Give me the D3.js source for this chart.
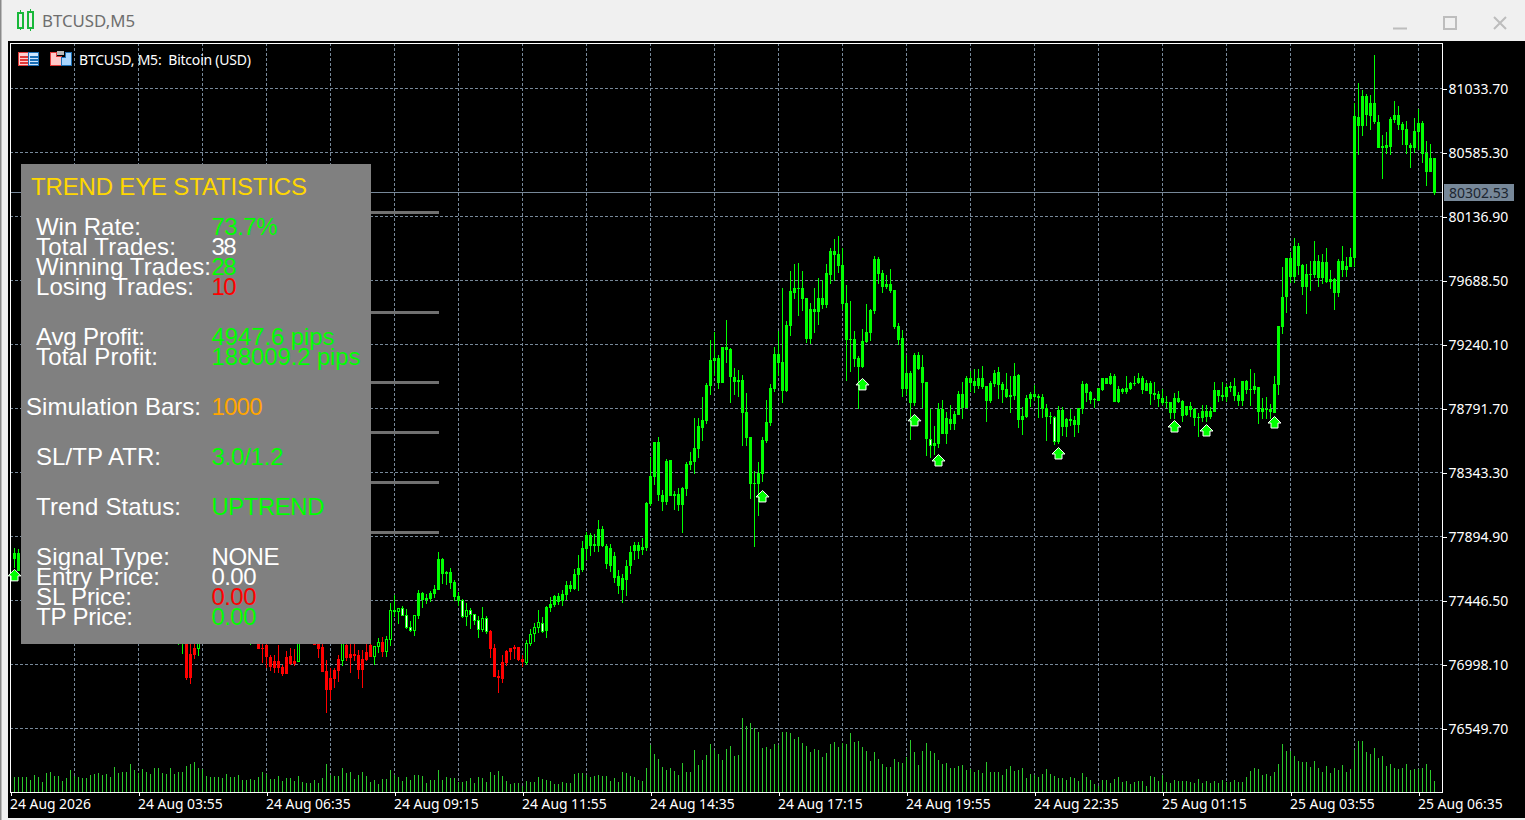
<!DOCTYPE html>
<html><head><meta charset="utf-8"><title>BTCUSD,M5</title>
<script src="https://cdn.jsdelivr.net/npm/d3@7/dist/d3.min.js"></script>
<style>html,body{margin:0;padding:0;background:#f0f0f0;overflow:hidden}svg{display:block}</style>
</head><body><svg id="c" width="1525" height="820"></svg>
<script>
const _ = null; // bars hidden behind the statistics panel
// index 0 of each series = bar 1 of the chart
const highs = [77815,77808,
_,_,_,_,_,_,_,_,_,_,_,_,_,_,_,_,_,_,_,_,_,_,_,_,_,_,_,_,_,_,_,_,_,_,_,_,_,_,_,
77275,77380,77450,77310,77205,77226,_,_,_,_,_,_,_,_,_,_,_,_,77240,_,77240,77205,77170,77065,77065,77135,76995,77093,77114,77107,77240,_,_,_,77226,77170,77170,77030,76974,76974,77065,77240,77170,77170,77170,77100,77100,77170,77170,
77128,77184,77191,77198,77429,77485,77394,77408,77387,77303,
77345,77520,77506,77492,77513,77555,77787,77745,77654,77675,
77590,77506,77457,77429,77394,77352,77338,77401,77338,77240,
77142,76960,77065,77100,77114,77135,77121,77065,77170,77247,
77289,77380,77331,77408,77471,77485,77499,77520,77583,77583,
77668,77766,77864,77927,77920,77913,78011,77969,77843,77843,
77787,77661,77633,77731,77829,77857,77857,77885,78137,78452,
78557,78592,78221,78438,78431,78214,78235,78242,78417,78487,
78726,78726,78873,78971,79272,79328,79167,79223,79412,79216,
79076,79062,79027,78901,78592,78354,78417,78592,78852,78964,
79223,79335,79636,79405,79755,79804,79811,79755,79566,79531,
79636,79706,79692,79804,79916,79979,80000,79916,79657,79545,
79335,79160,79349,79524,79489,79860,79853,79762,79727,79769,
79622,79391,79342,79167,79055,79181,79188,79167,78978,78789,
78669,78831,78852,78768,78817,78775,78915,78978,79020,79055,
79069,79069,79090,78950,78985,79062,79083,78978,79041,79020,
79111,79034,78803,78887,78908,78957,78894,78894,78824,78768,
78740,78810,78803,78726,78789,78740,78796,78985,78971,78915,
78866,78936,79006,79006,79041,79034,78950,78936,79020,78978,
79020,79041,79020,78992,78985,78978,78915,78929,78880,78838,
78901,78915,78852,78810,78838,78796,78761,78817,78817,78803,
78978,78922,78978,78964,78978,79006,78908,78985,78992,79069,
79041,78943,78866,78873,78824,79020,79370,79783,79846,79888,
79986,79951,79804,79804,79825,79965,79867,79874,79916,79762,
79706,79839,79930,79853,79916,80932,81072,81023,80995,80988,
81269,80848,80708,80729,80834,80946,80911,80799,80806,80652,
80827,80890,80806,80666,80645,80547];
const bodyTops = [77780,77780,
_,_,_,_,_,_,_,_,_,_,_,_,_,_,_,_,_,_,_,_,_,_,_,_,_,_,_,_,_,_,_,_,_,_,_,_,_,_,_,
77240,77310,77324,77072,77114,77184,_,_,_,_,_,_,_,_,_,_,_,_,77212,_,77170,77114,77135,77051,77023,77023,76981,77051,77058,77023,77198,_,_,_,77184,77149,77121,76953,76904,76960,77037,77170,77135,77072,77072,77065,77037,77086,77135,
77128,77156,77156,77177,77380,77380,77394,77394,77345,77261,
77345,77499,77499,77464,77499,77527,77738,77738,77647,77647,
77576,77478,77450,77380,77380,77352,77310,77324,77324,77233,
77114,76918,77016,77093,77114,77121,77121,77037,77149,77212,
77261,77296,77289,77401,77422,77478,77478,77492,77555,77555,
77633,77675,77815,77906,77906,77843,77948,77948,77829,77815,
77759,77619,77605,77689,77787,77836,77836,77822,78130,78319,
78557,78557,78186,78424,78431,78193,78193,78235,78403,78424,
78515,78669,78712,78957,79132,79146,79146,79223,79223,79209,
79013,78992,78992,78768,78592,78270,78340,78571,78697,78936,
79174,79174,79118,79377,79615,79636,79636,79636,79566,79489,
79489,79566,79566,79741,79895,79895,79874,79797,79531,79279,
79279,79146,79265,79328,79482,79839,79839,79741,79664,79664,
79622,79370,79286,79041,79041,79167,79167,79083,78978,78578,
78550,78789,78789,78726,78719,78754,78894,78894,79006,79006,
78985,79006,79006,78950,78971,79041,79048,78964,78929,78887,
79020,79027,78740,78866,78894,78894,78880,78873,78796,78740,
78733,78782,78782,78719,78719,78712,78796,78964,78964,78908,
78859,78936,79006,79006,79020,79020,78929,78929,78936,78971,
78971,79006,79006,78971,78971,78901,78894,78866,78838,78838,
78866,78866,78845,78810,78810,78789,78733,78775,78775,78775,
78922,78922,78887,78943,78950,78950,78887,78985,78985,78929,
78950,78943,78796,78789,78789,78964,79370,79573,79846,79846,
79930,79930,79797,79734,79734,79825,79825,79818,79818,79699,
79699,79825,79825,79790,79853,80841,80834,80981,80981,80932,
80932,80799,80631,80638,80820,80848,80848,80785,80750,80638,
80736,80792,80792,80582,80547,80547];
const bodyBottoms = [77738,77654,
_,_,_,_,_,_,_,_,_,_,_,_,_,_,_,_,_,_,_,_,_,_,_,_,_,_,_,_,_,_,_,_,_,_,_,_,_,_,_,
77170,77170,76904,76904,77065,77107,_,_,_,_,_,_,_,_,_,_,_,_,77170,_,77107,77107,77051,76981,76974,76974,76932,76932,77002,77002,77016,_,_,_,77135,77107,76946,76820,76820,76897,76953,77023,77044,77044,77058,76960,76960,77030,77051,
77051,77121,77086,77086,77170,77366,77366,77338,77254,77233,
77233,77338,77450,77450,77457,77492,77520,77633,77633,77569,
77471,77443,77331,77331,77345,77303,77240,77240,77226,77107,
76911,76904,76897,77009,77086,77107,77030,77016,77009,77142,
77212,77254,77226,77233,77394,77415,77436,77443,77485,77527,
77527,77626,77661,77808,77829,77829,77829,77829,77703,77689,
77605,77548,77520,77590,77689,77794,77794,77801,77815,78123,
78312,78186,78137,78137,78179,78179,78116,78116,78228,78396,
78417,78508,78655,78704,78950,79125,78971,78971,79202,79013,
78978,78978,78761,78585,78263,78263,78263,78333,78564,78690,
78929,79111,78915,78915,79370,79601,79629,79559,79279,79279,
79468,79468,79517,79517,79727,79867,79790,79524,79272,79272,
79139,79083,79083,79258,79321,79475,79734,79643,79643,79615,
79363,79272,78929,78929,78831,78831,79069,78971,78578,78529,
78529,78543,78613,78613,78683,78683,78747,78796,78796,78971,
78950,78950,78943,78845,78845,78964,78957,78922,78873,78873,
78880,78712,78712,78733,78859,78873,78866,78789,78733,78733,
78557,78557,78662,78662,78705,78677,78677,78789,78901,78852,
78852,78845,78922,78964,78964,78838,78838,78908,78908,78929,
78964,78971,78922,78915,78894,78887,78859,78831,78831,78761,
78761,78838,78740,78747,78782,78726,78726,78726,78733,78733,
78768,78880,78873,78873,78936,78880,78845,78845,78922,78922,
78922,78768,78768,78782,78768,78761,78957,79363,79573,79713,
79713,79790,79643,79643,79727,79727,79706,79706,79678,79678,
79601,79601,79762,79762,79783,79846,80771,80771,80848,80841,
80799,80617,80617,80617,80624,80813,80778,80743,80638,80617,
80617,80729,80575,80449,80449,80302.53];
const lows = [77675,77654,
_,_,_,_,_,_,_,_,_,_,_,_,_,_,_,_,_,_,_,_,_,_,_,_,_,_,_,_,_,_,_,_,_,_,_,_,_,_,_,
77135,77072,76890,76862,77037,77058,_,_,_,_,_,_,_,_,_,_,_,_,77135,_,77107,77009,76974,76953,76939,76939,76918,76932,76995,76988,77016,_,_,_,77135,77044,76946,76659,76750,76834,76876,76988,77023,76939,77023,76897,76834,77023,77051,
76995,77079,77051,77051,77128,77331,77282,77338,77247,77226,
77198,77317,77394,77422,77436,77464,77520,77562,77555,77527,
77443,77408,77324,77268,77247,77275,77184,77226,77212,77044,
76911,76799,76869,76988,77030,77037,77023,76981,76995,77128,
77156,77219,77219,77184,77366,77401,77415,77408,77450,77506,
77520,77513,77647,77731,77759,77787,77787,77822,77668,77647,
77569,77492,77429,77478,77633,77731,77738,77766,77794,78109,
78256,78144,78074,78116,78179,78081,78074,77920,78179,78361,
78333,78445,78564,78683,78887,79020,78929,78971,79111,78831,
78887,78873,78529,78529,78158,77822,78039,78277,78550,78669,
78908,79020,78831,78908,79300,79559,79440,79475,79251,79244,
79321,79377,79489,79496,79664,79685,79741,79482,78985,79048,
79083,78789,79076,79251,79265,79454,79664,79601,79629,79601,
79349,79237,78873,78887,78571,78810,79062,78796,78459,78445,
78466,78515,78613,78543,78641,78641,78747,78719,78796,78908,
78901,78929,78929,78697,78831,78943,78859,78831,78866,78761,
78852,78655,78606,78726,78803,78845,78726,78726,78564,78683,
78536,78543,78599,78592,78669,78592,78620,78754,78838,78824,
78796,78845,78915,78964,78957,78838,78831,78894,78894,78922,
78950,78964,78894,78915,78817,78852,78803,78817,78796,78719,
78719,78831,78697,78740,78733,78669,78592,78697,78697,78719,
78768,78838,78845,78838,78908,78845,78810,78810,78894,78810,
78894,78683,78719,78719,78719,78761,78887,79314,79461,79671,
79671,79727,79587,79454,79615,79706,79643,79664,79671,79629,
79482,79573,79713,79713,79783,79783,80568,80701,80771,80743,
80785,80617,80400,80575,80568,80792,80743,80638,80575,80477,
80582,80603,80512,80350,80449,80288];
const tickVolumes = [150,150,150,150,120,170,150,100,190,200,
160,160,110,140,220,160,150,140,140,170,
180,190,170,180,150,250,190,200,200,280,
220,190,230,200,180,240,240,190,180,240,
180,200,200,260,280,300,240,230,160,150,
150,150,140,180,150,150,170,120,120,130,
120,150,200,180,130,130,160,110,140,140,
110,160,100,90,90,120,90,140,280,170,
160,160,240,190,200,130,170,200,160,100,
120,80,130,130,220,170,150,110,150,120,
170,170,160,90,120,120,220,120,150,140,
140,100,100,110,140,90,150,140,100,200,
170,210,160,110,80,90,90,60,110,100,
100,150,130,120,110,80,80,100,90,90,
180,190,190,170,150,160,170,160,160,110,
140,100,200,190,160,150,120,110,240,470,
380,330,250,220,240,210,170,290,200,200,
420,270,320,370,480,420,380,320,430,460,
360,370,740,660,690,640,600,440,450,430,
480,470,600,600,590,530,550,490,460,400,
430,420,350,390,480,500,450,490,480,590,
500,510,450,410,310,400,330,280,250,250,
330,300,290,350,520,400,270,410,490,410,
390,320,280,290,240,240,260,270,220,230,
200,220,190,300,200,200,200,170,230,260,
210,220,240,140,180,170,150,180,230,180,
160,140,140,120,150,140,110,190,150,120,
80,60,120,120,90,130,150,100,110,80,
100,110,110,60,160,150,110,170,100,90,
120,110,110,110,100,90,130,90,110,90,
110,90,120,100,100,120,100,100,150,210,
240,230,170,180,160,200,280,480,410,410,
360,310,300,300,250,310,240,200,260,190,
240,220,270,200,230,420,510,510,400,380,
440,340,360,260,280,240,230,240,280,220,
230,230,240,280,220,110];
const redBars = [44,45,46,62,63,64,65,66,67,68,69,70,71,76,77,78,79,80,81,82,84,85,86,87,88,89,90,93,120,121,122,123,124,125,126,127,128];
const hollowBars = [47,72,83,91,92,94,95,97,101,114,118,129,130,131,132];
const whiteBars = [98,99,100,113,115,116,117,119,133,230,261];
const signalBars = [1,188,213,226,232,262,291,299,316];
const signalPrices = [77619,78172,78957,78705,78424,78473,78662,78634,78690];
const priceTicks = [81033.70,80585.30,80136.90,79688.50,79240.10,78791.70,78343.30,77894.90,77446.50,76998.10,76549.70];
const timeTickBars = [0,32,64,96,128,160,192,224,256,288,320,352];
const timeTickLabels = ["24 Aug 2026","24 Aug 03:55","24 Aug 06:35","24 Aug 09:15","24 Aug 11:55","24 Aug 14:35","24 Aug 17:15","24 Aug 19:55","24 Aug 22:35","25 Aug 01:15","25 Aug 03:55","25 Aug 06:35"];
const lastPrice = 80302.53;
const panelTitle = "TREND EYE STATISTICS";
const statLabels = ["Win Rate:","Total Trades:","Winning Trades:","Losing Trades:","Avg Profit:","Total Profit:","Simulation Bars:","SL/TP ATR:","Trend Status:","Signal Type:","Entry Price:","SL Price:","TP Price:"];
const statValues = ["73.7%","38","28","10","4947.6 pips","188009.2 pips","1000","3.0/1.2","UPTREND","NONE","0.00","0.00","0.00"];
const statColors = ["#00ff00","#ffffff","#00ff00","#ff0000","#00ff00","#00ff00","#ffa500","#00ff00","#00ff00","#ffffff","#ffffff","#ff0000","#00ff00"];
const statBaselines = [235,255,275,295,345,365,415,465,515,565,585,605,625];
const statLabelX = [36,36,36,36,36,36,26,36,36,36,36,36,36];
const statLabelWidths = [105,140,175,158,109,122,175,125,145,134,124,96,97];
const statValueWidths = [66,25,25,25,123,149,51,72,113,68,45,45,45];
const stubLineRows = [212,312,382,432,482,532];

const svg = d3.select("#c");
const L=10, R=1442, T=43, B=792, GRID="#778899", UI='"Noto Sans",sans-serif', ARIAL='"Liberation Sans",Arial,sans-serif';
const x = d3.scaleLinear().domain([0,356]).range([10.5,1434.5]);
const y = d3.scaleLinear().domain([81033.70,76549.70]).range([88.5,728.5]);
const yVol = d3.scaleLinear().domain([0,1000]).range([792,692]);

// window chrome
svg.append("rect").attr("width",1525).attr("height",820).attr("fill","#f0f0f0");
svg.append("rect").attr("width",1.5).attr("height",820).attr("fill","#8a8a8a");
svg.append("rect").attr("x",8).attr("y",41).attr("width",1517).attr("height",777).attr("fill","#000");
const ic = svg.append("g").attr("shape-rendering","crispEdges").attr("fill","none").attr("stroke","#18b83a").attr("stroke-width",1.4);
ic.append("rect").attr("x",18).attr("y",13).attr("width",5).attr("height",15);
ic.append("rect").attr("x",28).attr("y",12).attr("width",5).attr("height",16);
ic.append("path").attr("d","M20.5 10V13M20.5 28V30M30.5 9V12M30.5 28V31");
svg.append("text").attr("x",42).attr("y",26.5).attr("font-family",UI).attr("font-size",16.5).attr("fill","#6e6e6e").attr("textLength",93).attr("lengthAdjust","spacingAndGlyphs").text("BTCUSD,M5");
const wc = svg.append("g").attr("fill","none").attr("stroke","#bdbdbd").attr("stroke-width",2);
wc.append("path").attr("d","M1393 28.5H1407");
wc.append("rect").attr("x",1444).attr("y",17).attr("width",12).attr("height",12);
wc.append("path").attr("d","M1494 17L1506 29M1506 17L1494 29");

// grid
const grid = svg.append("g").attr("shape-rendering","crispEdges").attr("stroke",GRID).attr("stroke-dasharray","3,2");
grid.selectAll(".h").data(priceTicks).join("line").attr("x1",L).attr("x2",R).attr("y1",d=>y(d)).attr("y2",d=>y(d));
grid.selectAll(".v").data(d3.range(16,357,16)).join("line").attr("x1",d=>x(d)).attr("x2",d=>x(d)).attr("y1",T).attr("y2",B);
// last price line
svg.append("line").attr("shape-rendering","crispEdges").attr("x1",L).attr("x2",R).attr("y1",Math.floor(y(lastPrice))+.5).attr("y2",Math.floor(y(lastPrice))+.5).attr("stroke",GRID);

// volumes
svg.append("g").attr("shape-rendering","crispEdges").attr("stroke","#2bc82b").selectAll("line").data(tickVolumes).join("line")
  .attr("x1",(d,i)=>x(i+1)).attr("x2",(d,i)=>x(i+1)).attr("y1",B).attr("y2",d=>yVol(d));

// candles
const redSet=new Set(redBars), holSet=new Set(hollowBars), whiSet=new Set(whiteBars);
const bars = highs.map((h,i)=>({n:i+1,h,t:bodyTops[i],b:bodyBottoms[i],l:lows[i]})).filter(d=>d.h!==null);
const cg = svg.append("g").attr("shape-rendering","crispEdges");
const col = d=>redSet.has(d.n)?"#ff0000":"#00ff00";
cg.selectAll(".w").data(bars).join("rect").attr("x",d=>x(d.n)-.5).attr("width",1)
  .attr("y",d=>Math.round(y(d.h))).attr("height",d=>Math.max(1,Math.round(y(d.l))-Math.round(y(d.h)))).attr("fill",col);
cg.selectAll(".b").data(bars).join("rect").attr("x",d=>x(d.n)-1.5).attr("width",3)
  .attr("y",d=>Math.round(y(d.t))).attr("height",d=>Math.max(1,Math.round(y(d.b))-Math.round(y(d.t)))).attr("fill",col);
cg.selectAll(".i").data(bars.filter(d=>holSet.has(d.n)||whiSet.has(d.n))).join("rect").attr("x",d=>x(d.n)-.5).attr("width",1)
  .attr("y",d=>Math.round(y(d.t))+1).attr("height",d=>Math.max(0,Math.round(y(d.b))-Math.round(y(d.t))-2))
  .attr("fill",d=>whiSet.has(d.n)?"#ffffff":"#000000");

// axes frame
const fr = svg.append("g").attr("shape-rendering","crispEdges").attr("stroke","#fff");
fr.append("line").attr("x1",10.5).attr("x2",10.5).attr("y1",43).attr("y2",B);
fr.append("line").attr("x1",10).attr("x2",1442.5).attr("y1",43.5).attr("y2",43.5);
fr.append("line").attr("x1",1442.5).attr("x2",1442.5).attr("y1",43).attr("y2",B+1);
fr.append("line").attr("x1",10).attr("x2",1443).attr("y1",B+.5).attr("y2",B+.5);

// right axis
const ya = svg.append("g").attr("transform",`translate(${R+.5},0)`).call(d3.axisRight(y).tickValues(priceTicks).tickSize(4).tickPadding(2).tickFormat(d3.format(".2f")));
ya.select(".domain").remove();
ya.selectAll("line").attr("stroke","#fff").attr("shape-rendering","crispEdges");
ya.selectAll("text").attr("fill","#fff").attr("font-family",UI).attr("font-size",14).attr("dy","0.34em").attr("x",6);

// bottom axis
const xa = svg.append("g").attr("transform",`translate(0,${B+.5})`).call(d3.axisBottom(x).tickValues(timeTickBars).tickSize(3).tickPadding(3).tickFormat((d,i)=>timeTickLabels[i]));
xa.select(".domain").remove();
xa.selectAll("line").attr("stroke","#fff").attr("shape-rendering","crispEdges");
xa.selectAll("text").attr("fill","#fff").attr("font-family",UI).attr("font-size",13.9).attr("text-anchor","start").attr("x",-1).attr("y",3).attr("dy","1em");

// last price tag
svg.append("rect").attr("x",1444).attr("y",184).attr("width",70).attr("height",17).attr("fill",GRID);
svg.append("text").attr("x",1449).attr("y",198).attr("font-family",UI).attr("font-size",14).attr("fill","#1c2530").text(d3.format(".2f")(lastPrice));

// signal arrows
const arrow = "M0 -6.5L6.5 0L3.5 0L3.5 5L-3.5 5L-3.5 0L-6.5 0Z";
svg.append("g").selectAll("path").data(signalBars).join("path").attr("d",arrow)
  .attr("transform",(d,i)=>`translate(${x(d)},${y(signalPrices[i])})`)
  .attr("fill","#00ff00").attr("stroke","#fff").attr("stroke-width",1);

// top-left legend
const e1 = svg.append("g").attr("shape-rendering","crispEdges");
e1.append("rect").attr("x",18.5).attr("y",52.5).attr("width",10).attr("height",13).attr("fill","#ffd0d0").attr("stroke","#e03a3a");
e1.append("rect").attr("x",28.5).attr("y",52.5).attr("width",10).attr("height",13).attr("fill","#cfe6ff").attr("stroke","#1c6fb5");
e1.selectAll(".r1").data([56,59,62]).join("rect").attr("x",20).attr("y",d=>d).attr("width",8).attr("height",1.5).attr("fill","#e03a3a");
e1.selectAll(".r2").data([56,59,62]).join("rect").attr("x",30).attr("y",d=>d).attr("width",8).attr("height",1.5).attr("fill","#1c6fb5");
e1.append("path").attr("d","M50.5 52.5H56.5V56.5H61V65.5H50.5Z").attr("fill","#ffc9c9").attr("stroke","#e03a3a");
e1.append("rect").attr("x",57).attr("y",51).attr("width",7).attr("height",4).attr("fill","#b9b9b9");
e1.append("path").attr("d","M65.5 52.5H71.5V65.5H61.5V57.5H65.5Z").attr("fill","#a9d6ff").attr("stroke","#1c6fb5");
svg.append("text").attr("x",79).attr("y",65).attr("font-family",UI).attr("font-size",14).attr("fill","#fff").attr("xml:space","preserve").attr("textLength",172).text("BTCUSD, M5:  Bitcoin (USD)");

// statistics panel
svg.append("g").attr("shape-rendering","crispEdges").selectAll("rect").data(stubLineRows).join("rect").attr("x",371).attr("width",68).attr("y",d=>d-1).attr("height",3).attr("fill","#707070");
svg.append("rect").attr("x",21).attr("y",164).attr("width",350).attr("height",480).attr("fill","#808080");
svg.append("text").attr("x",31).attr("y",195).attr("font-family",ARIAL).attr("font-size",24).attr("fill","#ffd700").attr("textLength",276).text(panelTitle);
const st = svg.append("g").attr("font-family",ARIAL).attr("font-size",24);
st.selectAll(".l").data(statLabels).join("text").attr("x",(d,i)=>statLabelX[i]).attr("y",(d,i)=>statBaselines[i]).attr("fill","#fff").attr("textLength",(d,i)=>statLabelWidths[i]).text(d=>d);
st.selectAll(".v").data(statValues).join("text").attr("x",211.5).attr("y",(d,i)=>statBaselines[i]).attr("fill",(d,i)=>statColors[i]).attr("textLength",(d,i)=>statValueWidths[i]).text(d=>d);
</script></body></html>
